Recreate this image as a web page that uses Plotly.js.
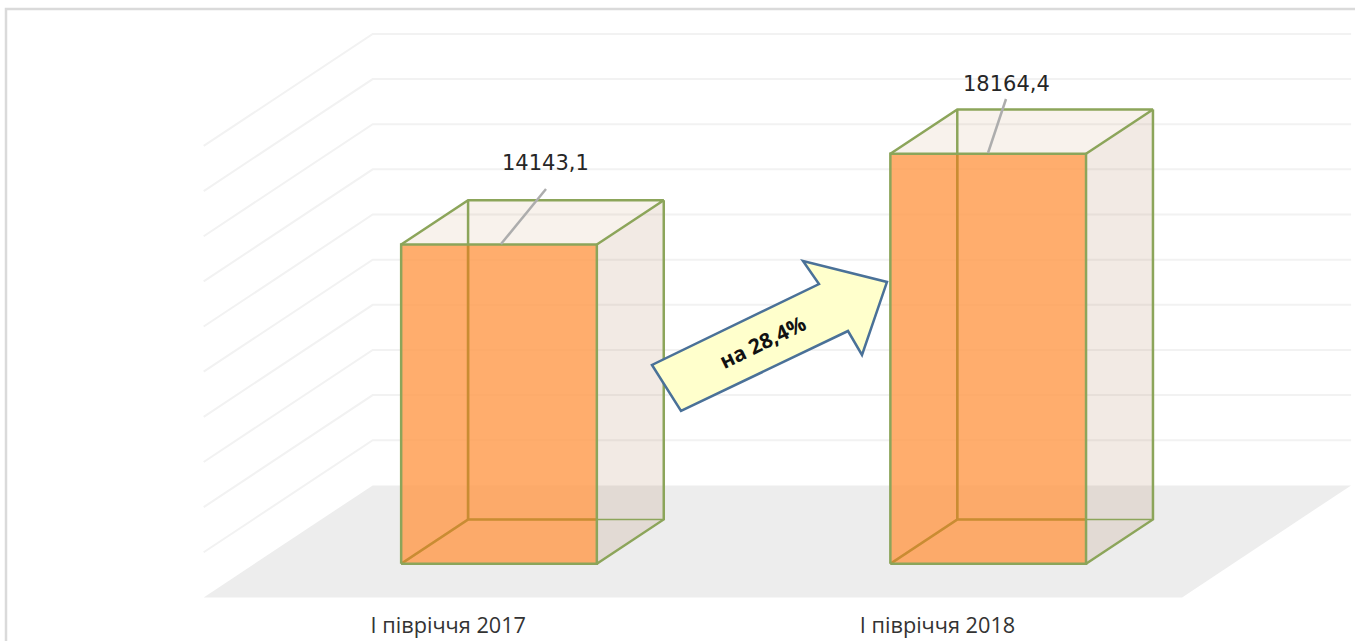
<!DOCTYPE html>
<html><head><meta charset="utf-8">
<script src="https://cdn.plot.ly/plotly-3.0.1.min.js"></script>
<style>html,body{margin:0;padding:0;background:#fff;overflow:hidden}#c{width:1355px;height:641px}</style>
</head><body><div id="c"></div>
<script>
const categories = ["І півріччя 2017", "І півріччя 2018"];
const values = [14143.1, 18164.4];
const valueLabels = ["14143,1", "18164,4"];
const gridValues = [2000,4000,6000,8000,10000,12000,14000,16000,18000,20000];
const changeLabel = "на 28,4%";

// pixel <-> axis calibration of the oblique 3-D box
const W=1355, H=641, BOTTOM=41;
const PX0=203.7, PXCAT=489.2, PY0=597.4, UNITS=44.3, DEPTHX=169, DEPTHY=112;
const xRange=[-PX0/PXCAT,(W-PX0)/PXCAT];
const yRange=[(PY0-(H-BOTTOM))*UNITS, PY0*UNITS];
const X=px=>(px-PX0)/PXCAT, Y=py=>(PY0-py)*UNITS;
// project category position c, value v, depth z onto the plane of the axes
const pc=(c,z)=>c+z*DEPTHX/PXCAT;
const pv=(v,z)=>v+z*DEPTHY*UNITS;
const BAR=0.2, Z1=0.3, Z2=0.696;   // half-width of bar in categories, depth extent

const traces=[];
const poly=(pts,fill,line,width)=>traces.push({
  type:'scatter',mode:line?'lines':'none',hoverinfo:'skip',showlegend:false,
  x:pts.map(p=>pc(p[0],p[2])),y:pts.map(p=>pv(p[1],p[2])),
  fill:fill?'toself':'none',fillcolor:fill||undefined,
  line:line?{color:line,width:width||2,simplify:false}:{width:0}
});

// floor
poly([[0,0,0],[2,0,0],[2,0,1],[0,0,1],[0,0,0]],'#EDEDED');
// gridlines: side wall and back wall
gridValues.forEach(v=>poly([[0,v,0],[0,v,1],[2,v,1]],null,'#F2F2F2',2));

const GREEN='#8CA55A', INNER='#C98C33';
values.forEach((v,i)=>{
  const a=i+0.5-BAR,b=i+0.5+BAR;
  // back, side, top faces
  poly([[b,0,Z1],[b,0,Z2],[b,v,Z2],[b,v,Z1],[b,0,Z1]],'rgba(170,115,75,0.15)');
  poly([[a,v,Z1],[b,v,Z1],[b,v,Z2],[a,v,Z2],[a,v,Z1]],'rgba(190,130,70,0.10)');
  // hidden edges
  poly([[a,0,Z2],[a,v,Z2]],null,GREEN,2.5);
  poly([[a,0,Z2],[b,0,Z2]],null,GREEN,1.5);
  poly([[a,0,Z1],[a,0,Z2]],null,GREEN,2.5);
  // front face
  poly([[a,0,Z1],[b,0,Z1],[b,v,Z1],[a,v,Z1],[a,0,Z1]],'rgba(255,152,72,0.8)');
  // hidden edges seen through the front
  poly([[a,0,Z2],[a,v-(Z2-Z1)*DEPTHY*UNITS,Z2]],null,INNER,2.5);
  poly([[a,0,Z2],[b-(Z2-Z1)*DEPTHX/PXCAT,0,Z2]],null,INNER,2.5);
  poly([[a,0,Z1],[a,0,Z2]],null,INNER,2.5);
  // visible edges
  poly([[a,0,Z1],[b,0,Z1],[b,v,Z1],[a,v,Z1],[a,0,Z1]],null,GREEN,2.5);
  poly([[a,v,Z1],[a,v,Z2],[b,v,Z2],[b,v,Z1]],null,GREEN,2.5);
  poly([[b,v,Z2],[b,0,Z2],[b,0,Z1]],null,GREEN,2.5);
});

// value label leader lines
const leaderEnds=[[546,189],[1006,99]], leaderStarts=[[501,244],[988,153]];
leaderEnds.forEach((e,i)=>traces.push({type:'scatter',mode:'lines',hoverinfo:'skip',showlegend:false,
  x:[X(leaderStarts[i][0]),X(e[0])],y:[Y(leaderStarts[i][1]),Y(e[1])],
  line:{color:'#ADADAD',width:2.5}}));

const arrowPx=[[652,365],[681,411],[848,331],[862,355],[887,282],[803,261],[819,284]];
const arrowPath='M'+arrowPx.map(p=>X(p[0])+','+Y(p[1])).join('L')+'Z';
const labelCentres=[[545,163],[1006,84]];
const plotH=H-BOTTOM;

const layout={
  width:W,height:H,margin:{l:0,r:0,t:0,b:BOTTOM,pad:0},
  paper_bgcolor:'#fff',plot_bgcolor:'rgba(0,0,0,0)',showlegend:false,
  xaxis:{range:xRange,fixedrange:true,showgrid:false,zeroline:false,showline:false,ticks:'',
    tickmode:'array',tickvals:[0.5,1.5],ticktext:categories,
    ticklabelstandoff:10,
    tickfont:{family:'"Open Sans",sans-serif',size:21.7,color:'#333'}},
  yaxis:{range:yRange,fixedrange:true,visible:false},
  shapes:[
    {type:'path',xref:'x',yref:'y',layer:'above',path:arrowPath,fillcolor:'#FFFFCC',line:{color:'#4A7198',width:2.5}},
    {type:'path',xref:'paper',yref:'paper',layer:'above',
     path:`M${6/W},${-BOTTOM/plotH} L${6/W},${(plotH-9)/plotH} L1,${(plotH-9)/plotH}`,
     line:{color:'#DADADA',width:2.5}}
  ],
  annotations:values.map((v,i)=>({xref:'x',yref:'y',x:X(labelCentres[i][0]),y:Y(labelCentres[i][1]),
      text:valueLabels[i],showarrow:false,xanchor:'center',yanchor:'middle',
      font:{family:'"DejaVu Sans",sans-serif',size:21,color:'#262626'}}))
    .concat([{xref:'x',yref:'y',x:X(762),y:Y(342),text:'<b>'+changeLabel+'</b>',showarrow:false,
      textangle:-26,xanchor:'center',yanchor:'middle',
      font:{family:'"Open Sans",sans-serif',size:21,color:'#111'}}])
};
Plotly.newPlot('c',traces,layout,{displayModeBar:false,staticPlot:true});
</script></body></html>
